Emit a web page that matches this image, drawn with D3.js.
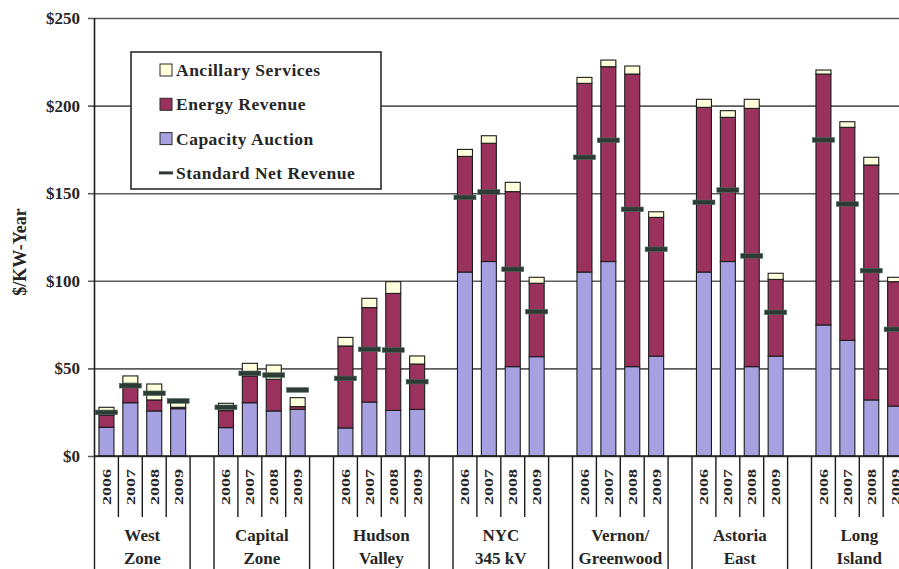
<!DOCTYPE html>
<html>
<head>
<meta charset="utf-8">
<script src="https://cdn.jsdelivr.net/npm/d3@7"></script>
<style>
  html, body { margin: 0; padding: 0; background: #ffffff; }
  svg { display: block; }
  text { font-family: "Liberation Serif", "Times New Roman", serif; font-weight: bold; fill: #262626; }
</style>
</head>
<body>
<svg id="chart" width="899" height="569"></svg>
<script>
// ---- data ($/kW-year) ----
const zones = ["West Zone", "Capital Zone", "Hudson Valley", "NYC 345 kV", "Vernon/Greenwood", "Astoria East", "Long Island"];
const zoneLines = [["West", "Zone"], ["Capital", "Zone"], ["Hudson", "Valley"], ["NYC", "345 kV"], ["Vernon/", "Greenwood"], ["Astoria", "East"], ["Long", "Island"]];
const years = ["2006", "2007", "2008", "2009"];

// one row per zone, one value per year
const capacity = [
  [16.4, 30.4, 25.7, 27.0],
  [16.2, 30.4, 25.7, 26.6],
  [16.0, 30.8, 26.0, 26.6],
  [105.0, 111.0, 51.0, 56.7],
  [105.0, 111.0, 51.0, 57.0],
  [105.0, 111.0, 51.0, 57.0],
  [74.8, 66.0, 32.0, 28.5]
];
const energy = [
  [7.0, 11.1, 6.3, 0.8],
  [9.7, 15.3, 18.1, 1.6],
  [46.8, 53.9, 66.8, 25.9],
  [66.0, 67.5, 99.9, 41.9],
  [107.7, 111.2, 167.0, 79.2],
  [94.0, 82.3, 147.4, 43.8],
  [143.2, 121.6, 134.1, 71.0]
];
const ancillary = [
  [4.4, 4.2, 9.1, 4.5],
  [4.2, 7.2, 8.1, 5.1],
  [4.9, 5.3, 6.7, 4.6],
  [4.0, 4.3, 5.3, 3.4],
  [3.4, 3.8, 4.6, 3.2],
  [4.6, 3.8, 5.2, 3.5],
  [2.3, 3.2, 4.4, 2.5]
];
const netRevenue = [
  [24.9, 40.1, 35.8, 31.4],
  [27.8, 47.2, 46.2, 37.7],
  [44.3, 60.9, 60.5, 42.4],
  [147.6, 150.7, 106.6, 82.4],
  [170.5, 180.2, 140.8, 118.0],
  [144.8, 151.8, 114.2, 82.0],
  [180.4, 143.8, 105.8, 72.3]
];
const yTicks = [0, 50, 100, 150, 200, 250];
const legendNames = ["Ancillary Services", "Energy Revenue", "Capacity Auction", "Standard Net Revenue"];
const yTitle = "$/KW-Year";

// ---- styling ----
const colors = { capacity: "#a7a1e2", energy: "#9b325d", ancillary: "#ffffdc", net: "#2c3b35" };
const W = 899, H = 569;

const svg = d3.select("#chart");

// category slots: four years per zone, with an empty slot between zones
const slots = [];
zones.forEach((z, zi) => {
  years.forEach(yr => slots.push({ key: zi + "-" + yr, zone: zi, year: yr, blank: false }));
  if (zi < zones.length - 1) slots.push({ key: "gap" + zi, zone: -1 - zi, blank: true });
});

const x = d3.scaleBand()
  .domain(slots.map(s => s.key))
  .range([94.5, 907.1])
  .paddingInner(0.372)
  .paddingOuter(0.186);

const y = d3.scaleLinear().domain([0, 250]).range([456, 18]);

// ---- gridlines & y axis ----
const yAxis = d3.axisLeft(y)
  .tickValues(yTicks)
  .tickSize(-(W - 88))
  .tickPadding(8)
  .tickFormat(d => "$" + d);

const gy = svg.append("g").attr("transform", "translate(88,0)").call(yAxis);
gy.select(".domain").remove();
gy.selectAll(".tick line").attr("stroke", "#5c5c5c").attr("stroke-width", 1.6);
gy.selectAll(".tick text")
  .attr("font-size", 17)
  .attr("font-family", "Liberation Serif, serif")
  .attr("font-weight", "bold")
  .attr("fill", "#2a2a2a");

svg.append("text")
  .attr("transform", "translate(20,252) rotate(-90)")
  .attr("text-anchor", "middle")
  .attr("dominant-baseline", "central")
  .attr("font-size", 18)
  .text(yTitle);

// ---- legend ----
const lg = svg.append("g");
lg.append("rect")
  .attr("x", 131).attr("y", 52).attr("width", 250).attr("height", 137)
  .attr("fill", "#ffffff").attr("stroke", "#2a2a2a").attr("stroke-width", 1.6);

const legendFills = [colors.ancillary, colors.energy, colors.capacity];
legendNames.forEach((name, i) => {
  const cy = 70 + i * 34.3;
  if (i < 3) {
    lg.append("rect")
      .attr("x", 160).attr("y", cy - 6).attr("width", 12).attr("height", 12)
      .attr("fill", legendFills[i]).attr("stroke", "#2a2a2a").attr("stroke-width", 1);
  } else {
    lg.append("rect")
      .attr("x", 159).attr("y", cy - 1.5).attr("width", 14).attr("height", 3)
      .attr("fill", colors.net);
  }
  lg.append("text")
    .attr("x", 176).attr("y", cy)
    .attr("dominant-baseline", "central")
    .attr("font-size", 17.5)
    .attr("letter-spacing", 0.5)
    .text(name);
});

// ---- stacked bars ----
const rows = [];
zones.forEach((z, zi) => years.forEach((yr, yi) => rows.push({
  key: zi + "-" + yr,
  capacity: capacity[zi][yi],
  energy: energy[zi][yi],
  ancillary: ancillary[zi][yi],
  net: netRevenue[zi][yi]
})));

const stacked = d3.stack().keys(["capacity", "energy", "ancillary"])(rows);

svg.append("g").selectAll("g")
  .data(stacked)
  .join("g")
  .attr("fill", d => colors[d.key])
  .selectAll("rect")
  .data(d => d)
  .join("rect")
  .attr("x", d => x(d.data.key))
  .attr("width", x.bandwidth())
  .attr("y", d => y(d[1]))
  .attr("height", d => y(d[0]) - y(d[1]))
  .attr("stroke", "#1c1c1c")
  .attr("stroke-width", 1.1);

// standard net revenue markers
svg.append("g").selectAll("rect")
  .data(rows)
  .join("rect")
  .attr("x", d => x(d.key) + x.bandwidth() / 2 - 11)
  .attr("width", 22)
  .attr("y", d => y(d.net) - 2.3)
  .attr("height", 4.6)
  .attr("fill", colors.net)
  .attr("stroke", "#4d6a5c")
  .attr("stroke-width", 0.6);

// ---- category axis ----
const x0 = x.range()[0], step = x.step();
svg.append("line")
  .attr("x1", x0).attr("x2", W).attr("y1", y(0)).attr("y2", y(0))
  .attr("stroke", "#1c1c1c").attr("stroke-width", 1.6);

// vertical axis line
svg.append("line")
  .attr("x1", x0).attr("x2", x0).attr("y1", y(250)).attr("y2", y(0))
  .attr("stroke", "#1c1c1c").attr("stroke-width", 1.6);

// dividers: short between years, full height between zones/gaps
for (let k = 0; k <= slots.length; k++) {
  const a = slots[k - 1], b = slots[k];
  const inner = a && b && !a.blank && !b.blank && a.zone === b.zone;
  const bx = x0 + k * step;
  svg.append("line")
    .attr("x1", bx).attr("x2", bx)
    .attr("y1", y(0)).attr("y2", inner ? 517 : H)
    .attr("stroke", "#1c1c1c").attr("stroke-width", 1.4);
}

// year labels
svg.append("g").selectAll("text")
  .data(slots.filter(s => !s.blank))
  .join("text")
  .attr("transform", d => `translate(${x(d.key) + x.bandwidth() / 2},487) rotate(-90) scale(1.45,1)`)
  .attr("text-anchor", "middle")
  .attr("dominant-baseline", "central")
  .attr("font-size", 12.5)
  .text(d => d.year);

// zone labels (two lines each)
zones.forEach((z, zi) => {
  const first = slots.find(s => s.zone === zi && s.year === years[0]);
  const cx = x0 + (slots.indexOf(first) + years.length / 2) * step;
  zoneLines[zi].forEach((line, li) => {
    svg.append("text")
      .attr("x", cx).attr("y", 535 + li * 23)
      .attr("text-anchor", "middle")
      .attr("dominant-baseline", "central")
      .attr("font-size", 17)
      .text(line);
  });
});
</script>
</body>
</html>
